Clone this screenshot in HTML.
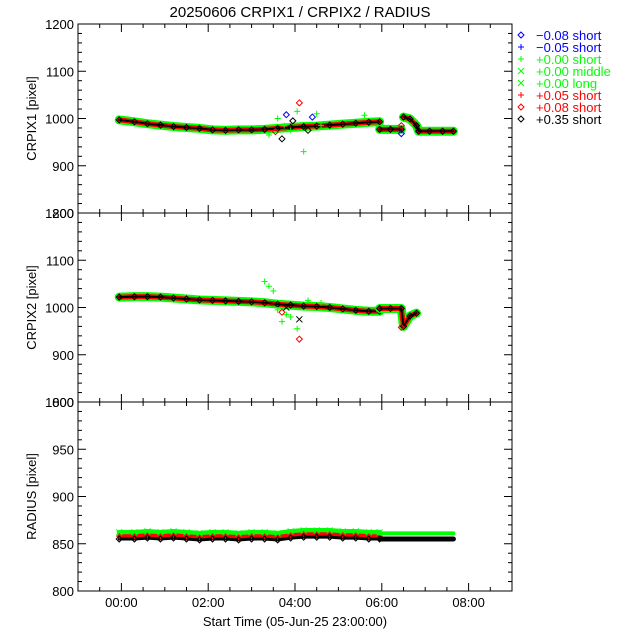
<!DOCTYPE html>
<html><head><meta charset="utf-8"><style>
body{margin:0;background:#fff}
svg{display:block;font-family:"Liberation Sans",sans-serif}
</style></head><body>
<svg id="c" width="640" height="640" viewBox="0 0 640 640"></svg>
<script>
// ---- data (hours since 05-Jun-25 23:00) ----
const times = [-0.05,0.3,0.6,0.9,1.2,1.5,1.8,2.1,2.4,2.7,3.0,3.3,3.6,3.9,4.2,4.5,4.8,5.1,5.4,5.7,5.95];
const crpix1Main = [997,993,989,986,983,981,979,976,975,976,976,977,979,981,983,984,986,988,990,992,993];
const crpix2Main = [1022,1023,1023,1022,1020,1018,1016,1015,1014,1013,1012,1010,1007,1005,1003,1002,1000,997,994,992,992];
const radiusBlack = [855,855,856,855,856,855,854,855,855,854,855,855,854,856,857,857,857,856,856,855,855];
const radiusRed = [858,858,859,858,859,858,857,858,858,857,858,858,857,859,860,860,860,859,859,858,858];
const radiusGreen = [862,862,863,862,863,862,861,862,862,861,862,862,861,863,864,864,864,863,863,862,862];
const times2 = [5.95,6.2,6.45,6.5,6.65,6.8,6.85,7.1,7.4,7.65];
const crpix1Tail = [977,977,977,1003,999,985,973,973,973,973];
const times2b = [5.95,6.2,6.45,6.5,6.65,6.8];
const crpix2Tail = [998,998,998,960,982,988];
const radiusTail = [855,855,855,855,855,855,855,855,855,855];
// scattered outliers [time, value]
const outliers1G = [[3.4,965],[3.6,1000],[3.75,985],[4.05,1015],[4.2,930],[4.5,1010],[4.6,985],[5.6,1007],[3.9,975]];
const outliers1B = [[3.8,1008],[4.4,1003],[6.45,968]];
const outliers1R = [[4.1,1033],[3.55,972],[6.45,985]];
const outliers1K = [[3.7,957],[3.95,995],[4.3,975]];
const outliers2G = [[3.3,1055],[3.5,1035],[3.6,995],[3.7,970],[3.8,985],[4.05,955],[4.3,1015],[4.6,1010],[3.4,1045],[3.9,980]];
const outliers2R = [[4.1,933],[3.7,990],[6.45,958]];
const outliers2K = [[4.1,975],[3.8,1000]];
// ---- legend ----
const legendLabels = ["\u22120.08 short","\u22120.05 short","+0.00 short","+0.00 middle","+0.00 long","+0.05 short","+0.08 short","+0.35 short"];
const legendColors = ["#0000ff","#0000ff","#00ff00","#00ff00","#00ff00","#ff0000","#ff0000","#000000"];
const legendSyms = ["d","+","+","x","x","+","d","d"];

const NS="http://www.w3.org/2000/svg";
const svg=document.getElementById('c');
function el(t,a,p){const e=document.createElementNS(NS,t);for(const k in a)e.setAttribute(k,a[k]);(p||svg).appendChild(e);return e;}
const X0=78,X1=512;
const xs=h=>X0+(h+1)/10*(X1-X0);
const panels=[
 {top:24,bot:213,min:800,max:1200,major:100,minor:20,label:"CRPIX1 [pixel]",name:"crpix1"},
 {top:213,bot:402,min:800,max:1200,major:100,minor:20,label:"CRPIX2 [pixel]",name:"crpix2"},
 {top:402,bot:591,min:800,max:1000,major:50,minor:10,label:"RADIUS [pixel]",name:"radius"}];
panels.forEach(p=>p.ys=v=>p.bot-(v-p.min)/(p.max-p.min)*(p.bot-p.top));

function mark(g,sym,x,y,col){
  if(sym==="d"){const e=el('path',{d:`M${x},${y-3}L${x+3},${y}L${x},${y+3}L${x-3},${y}Z`,fill:'none',stroke:col,'stroke-width':1},g);}
  else if(sym==="+"){const e=el('path',{d:`M${x-3},${y}H${x+3}M${x},${y-3}V${y+3}`,stroke:col,'stroke-width':1},g);}
  else {const e=el('path',{d:`M${x-3},${y-3}L${x+3},${y+3}M${x-3},${y+3}L${x+3},${y-3}`,stroke:col,'stroke-width':1},g);}
}
function band(g,p,ts,vs,col,w,off){
  const pts=ts.map((t,i)=>xs(t)+','+(p.ys(vs[i])+off)).join(' ');
  const e=el('polyline',{points:pts,fill:'none',stroke:col,'stroke-width':w,'stroke-linejoin':'round','stroke-linecap':'round'},g);
  
}
function series(g,p,ts,vs,off){
  band(g,p,ts,vs,'#00ff00',9,0);
  band(g,p,ts,vs,'#ff0000',5,0);
  band(g,p,ts,vs,'#000000',2,0);
  ts.forEach((t,i)=>{mark(g,'d',xs(t),p.ys(vs[i]),'#000');});
}

// title
const tt=el('text',{x:300,y:17,'text-anchor':'middle','font-size':15});tt.textContent="20250606 CRPIX1 / CRPIX2 / RADIUS";


panels.forEach((p,pi)=>{
  const g=el('g',{});
  
  const fr=el('rect',{x:X0,y:p.top,width:X1-X0,height:p.bot-p.top,fill:'none',stroke:'#000','stroke-width':1},g);
  
  for(let v=p.min;v<=p.max+0.01;v+=p.minor){
    const y=p.ys(v),maj=Math.abs((v-p.min)%p.major)<0.01;
    const L=maj?8:4;
    el('line',{x1:X0,x2:X0+L,y1:y,y2:y,stroke:'#000'},g);
    el('line',{x1:X1,x2:X1-L,y1:y,y2:y,stroke:'#000'},g);
    if(maj){const t=el('text',{x:X0-4,y:y+5,'text-anchor':'end','font-size':13},g);t.textContent=v;
      }
  }
  for(let h=-1;h<=9.01;h+=0.5){
    const x=xs(h),maj=Math.abs(h%2)<0.01&&h>=0&&h<=8;
    const L=maj?8:4;
    el('line',{x1:x,x2:x,y1:p.bot,y2:p.bot-L,stroke:'#000'},g);
    el('line',{x1:x,x2:x,y1:p.top,y2:p.top+L,stroke:'#000'},g);
    if(maj&&pi===2){const t=el('text',{x:x,y:p.bot+16,'text-anchor':'middle','font-size':13},g);t.textContent=String(h).padStart(2,'0')+':00';
      }
  }
  const yl=el('text',{x:0,y:0,transform:`translate(36,${(p.top+p.bot)/2}) rotate(-90)`,'text-anchor':'middle','font-size':13},g);
  yl.textContent=p.label;
});

const dg=el('g',{});
const P=panels;
series(dg,P[0],times,crpix1Main);series(dg,P[0],times2.slice(0,3),crpix1Tail.slice(0,3));series(dg,P[0],times2.slice(3),crpix1Tail.slice(3));
series(dg,P[1],times,crpix2Main);series(dg,P[1],times2b,crpix2Tail);
band(dg,P[2],times,radiusGreen,'#00ff00',5,0);band(dg,P[2],times,radiusRed,'#ff0000',4,0);band(dg,P[2],times,radiusBlack,'#000',3,0);
times.forEach((t,i)=>{mark(dg,'x',xs(t),P[2].ys(radiusGreen[i]),'#00ff00');mark(dg,'+',xs(t),P[2].ys(radiusRed[i]),'#ff0000');mark(dg,'d',xs(t),P[2].ys(radiusBlack[i]),'#000');});
band(dg,P[2],times2,radiusTail.map(v=>v+6),'#00ff00',4,0);band(dg,P[2],times2,radiusTail,'#000',5,0);
outliers1G.forEach(o=>mark(dg,'+',xs(o[0]),P[0].ys(o[1]),'#00ff00'));
outliers1B.forEach(o=>mark(dg,'d',xs(o[0]),P[0].ys(o[1]),'#0000ff'));
outliers1R.forEach(o=>mark(dg,'d',xs(o[0]),P[0].ys(o[1]),'#ff0000'));
outliers1K.forEach(o=>mark(dg,'d',xs(o[0]),P[0].ys(o[1]),'#000'));
outliers2G.forEach(o=>mark(dg,'+',xs(o[0]),P[1].ys(o[1]),'#00ff00'));
outliers2R.forEach(o=>mark(dg,'d',xs(o[0]),P[1].ys(o[1]),'#ff0000'));
outliers2K.forEach(o=>mark(dg,'x',xs(o[0]),P[1].ys(o[1]),'#000'));

const xl=el('text',{x:295,y:626,'text-anchor':'middle','font-size':13});xl.textContent="Start Time (05-Jun-25 23:00:00)";


const lg=el('g',{});
legendLabels.forEach((s,i)=>{
  const y=35+i*12;
  const e=el('g',{},lg);
  mark(e,legendSyms[i],521,y,legendColors[i]);
  const t=el('text',{x:536,y:y+5,'font-size':13,fill:legendColors[i]},e);t.textContent=s;
});
</script>
</body></html>
